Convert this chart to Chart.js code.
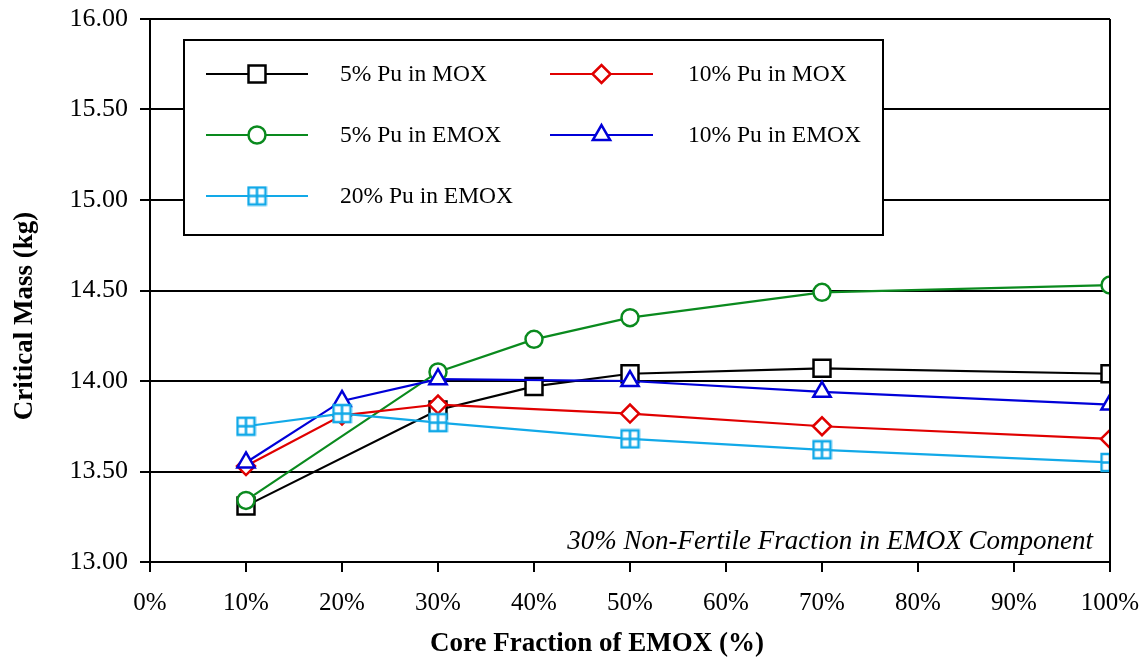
<!DOCTYPE html>
<html>
<head>
<meta charset="utf-8">
<script src="https://cdn.jsdelivr.net/npm/chart.js@4.4.0/dist/chart.umd.min.js"></script>
<style>
  html, body { margin: 0; padding: 0; background: #fff; }
  #wrap { width: 1146px; height: 664px; }
</style>
</head>
<body>
<div id="wrap"><canvas id="cm" width="1146" height="664"></canvas></div>
<script>
var SERIF = "'Times New Roman', 'Liberation Serif', serif";

// data (x = core fraction of EMOX in %, y = critical mass in kg)
var mox5_x  = [10, 30, 40, 50, 70, 100];
var mox5_y  = [13.31, 13.84, 13.97, 14.04, 14.07, 14.04];
var mox10_x = [10, 20, 30, 50, 70, 100];
var mox10_y = [13.53, 13.81, 13.87, 13.82, 13.75, 13.68];
var emox5_x  = [10, 30, 40, 50, 70, 100];
var emox5_y  = [13.34, 14.05, 14.23, 14.35, 14.49, 14.53];
var emox10_x = [10, 20, 30, 50, 70, 100];
var emox10_y = [13.55, 13.89, 14.01, 14.00, 13.94, 13.87];
var emox20_x = [10, 20, 30, 50, 70, 100];
var emox20_y = [13.75, 13.82, 13.77, 13.68, 13.62, 13.55];

var seriesNames = ['5% Pu in MOX', '10% Pu in MOX', '5% Pu in EMOX', '10% Pu in EMOX', '20% Pu in EMOX'];
var xTicks = [0, 10, 20, 30, 40, 50, 60, 70, 80, 90, 100];
var yTicks = [13.0, 13.5, 14.0, 14.5, 15.0, 15.5, 16.0];
var xTitle = 'Core Fraction of EMOX (%)';
var yTitle = 'Critical Mass (kg)';
var note = '30% Non-Fertile Fraction in EMOX Component';

function pts(xs, ys){
    var out = [];
    for(var i = 0; i < xs.length; i++){
        out.push({x: xs[i], y: ys[i]});
    }
    return out;
}

// square with a cross in it, for the 20% series
function crossSquare(color){
    var c = document.createElement('canvas');
    c.width = 21; c.height = 21;
    var g = c.getContext('2d');
    g.fillStyle = '#fff';
    g.fillRect(2, 2, 17, 17);
    g.strokeStyle = color;
    g.lineWidth = 2.5;
    g.strokeRect(2, 2, 17, 17);
    g.beginPath();
    g.moveTo(10.5, 2); g.lineTo(10.5, 19);
    g.moveTo(2, 10.5); g.lineTo(19, 10.5);
    g.stroke();
    return c;
}

function ds(label, xs, ys, color, style, radius){
    return {
        label: label,
        data: pts(xs, ys),
        borderColor: color,
        backgroundColor: color,
        borderWidth: 2.2,
        pointStyle: style,
        pointRadius: radius,
        pointHoverRadius: radius,
        pointBorderWidth: 2.5,
        pointBorderColor: color,
        pointBackgroundColor: '#fff',
        tension: 0,
        fill: false
    };
}

var cyan = '#12a9e8';
var datasets = [
    ds(seriesNames[4], emox20_x, emox20_y, cyan, crossSquare(cyan), 9),
    ds(seriesNames[3], emox10_x, emox10_y, '#0000d8', 'triangle', 10),
    ds(seriesNames[1], mox10_x, mox10_y, '#e00000', 'rectRot', 9),
    ds(seriesNames[2], emox5_x, emox5_y, '#0a8a1e', 'circle', 8.5),
    ds(seriesNames[0], mox5_x, mox5_y, '#000000', 'rect', 12)
];

// legend box, note, axis titles, right border
var boxLegend = {
    id: 'boxLegend',
    afterDraw: function(chart){
        var ctx = chart.ctx;
        var a = chart.chartArea;
        ctx.save();
        ctx.strokeStyle = '#000';
        ctx.lineWidth = 2;
        ctx.beginPath();
        ctx.moveTo(a.right, a.top);
        ctx.lineTo(a.right, a.bottom);
        ctx.stroke();

        ctx.fillStyle = '#fff';
        ctx.fillRect(184, 40, 699, 195);
        ctx.strokeRect(184, 40, 699, 195);

        var cols = [{x0: 206, x1: 308, tx: 340}, {x0: 550, x1: 653, tx: 688}];
        var rows = [74, 135, 196];
        ctx.font = '23.5px ' + SERIF;
        ctx.textBaseline = 'middle';
        for(var i = 0; i < seriesNames.length; i++){
            var d = chart.data.datasets.find(function(s){ return s.label === seriesNames[i]; });
            var c = cols[i % 2], y = rows[Math.floor(i / 2)];
            ctx.strokeStyle = d.borderColor;
            ctx.lineWidth = 2.2;
            ctx.beginPath();
            ctx.moveTo(c.x0, y);
            ctx.lineTo(c.x1, y);
            ctx.stroke();
            ctx.fillStyle = '#fff';
            ctx.lineWidth = 2.5;
            Chart.helpers.drawPoint(ctx, {
                pointStyle: d.pointStyle,
                radius: d.pointRadius,
                borderWidth: 2.5,
                rotation: 0
            }, (c.x0 + c.x1) / 2, y);
            ctx.fillStyle = '#000';
            ctx.textAlign = 'left';
            ctx.fillText(seriesNames[i], c.tx, y + 1);
        }

        ctx.fillStyle = '#000';
        ctx.font = 'italic 27px ' + SERIF;
        ctx.textAlign = 'right';
        ctx.textBaseline = 'alphabetic';
        ctx.fillText(note, 1093, 549);

        ctx.font = 'bold 27px ' + SERIF;
        ctx.textAlign = 'center';
        ctx.fillText(xTitle, 597, 651);

        ctx.translate(32, 316);
        ctx.rotate(-Math.PI / 2);
        ctx.fillText(yTitle, 0, 0);
        ctx.restore();
    }
};

const ctx = document.getElementById('cm');
var cm_chart = new Chart(ctx, {
    type: 'line',
    data: { datasets: datasets },
    options: {
        responsive: false,
        animation: false,
        events: [],
        layout: { padding: { left: 0, right: 36, top: 19, bottom: 0 } },
        scales: {
            x: {
                type: 'linear',
                min: 0,
                max: 100,
                afterBuildTicks: function(scale){
                    scale.ticks = xTicks.map(function(v){ return {value: v}; });
                },
                afterFit: function(scale){
                    scale.height = 102;
                    scale.paddingLeft = 0;
                    scale.paddingRight = 0;
                },
                grid: {
                    display: true,
                    drawOnChartArea: false,
                    drawTicks: true,
                    tickLength: 10,
                    color: '#000',
                    lineWidth: 2
                },
                border: { display: true, color: '#000', width: 2 },
                ticks: {
                    color: '#000',
                    padding: 16,
                    maxRotation: 0,
                    autoSkip: false,
                    font: { family: SERIF, size: 25 },
                    callback: function(v){ return v + '%'; }
                },
                title: { display: false }
            },
            y: {
                min: 13,
                max: 16,
                afterBuildTicks: function(scale){
                    scale.ticks = yTicks.map(function(v){ return {value: v}; });
                },
                afterFit: function(scale){
                    scale.width = 150;
                    scale.paddingTop = 0;
                    scale.paddingBottom = 0;
                },
                grid: {
                    display: true,
                    drawOnChartArea: true,
                    drawTicks: true,
                    tickLength: 10,
                    color: '#000',
                    lineWidth: 2
                },
                border: { display: true, color: '#000', width: 2 },
                ticks: {
                    color: '#000',
                    padding: 12,
                    font: { family: SERIF, size: 26 },
                    callback: function(v){ return Number(v).toFixed(2); }
                },
                title: { display: false }
            }
        },
        plugins: {
            legend: false,
            tooltip: { enabled: false }
        }
    },
    plugins: [boxLegend]
});
</script>
</body>
</html>
